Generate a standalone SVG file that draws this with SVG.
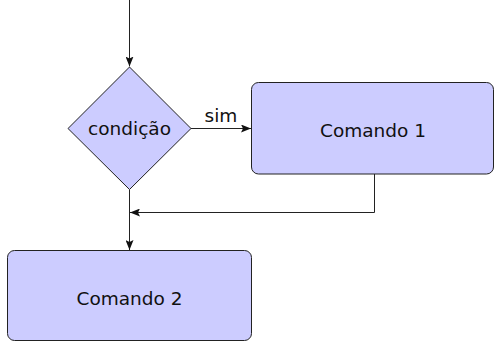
<svg xmlns="http://www.w3.org/2000/svg" width="494" height="341" viewBox="0 0 494 341">
<style>
.node{fill:#ccccff;stroke:#222;stroke-width:1}
.lbl{font-family:"DejaVu Sans",sans-serif;font-size:18.5px;fill:#111;text-anchor:middle}
.edge{fill:none;stroke:#222;stroke-width:1}
</style>
<defs>
<marker id="arr" viewBox="0 0 10 8" refX="10" refY="4" markerWidth="10" markerHeight="8" markerUnits="userSpaceOnUse" orient="auto">
<path d="M0,0 L10,4 L0,8 L2,4 Z" fill="#111"/>
</marker>
</defs>
<g id="connectors">
<line class="edge" x1="129.5" y1="0" x2="129.5" y2="66.5" marker-end="url(#arr)"/>
<line class="edge" x1="191" y1="128.5" x2="251" y2="128.5" marker-end="url(#arr)"/>
<text class="lbl" x="221" y="121.5">sim</text>
<polyline class="edge" points="374.5,174 374.5,212.5 130,212.5" marker-end="url(#arr)"/>
<line class="edge" x1="129.5" y1="189.5" x2="129.5" y2="250" marker-end="url(#arr)"/>
</g>
<g id="condicao">
<polygon class="node" points="129.5,67 191,128.5 129.5,189.5 68,128.5"/>
<text class="lbl" x="129.5" y="135">condição</text>
</g>
<g id="comando1">
<rect class="node" x="251.5" y="82.5" width="242" height="91.5" rx="7"/>
<text class="lbl" x="373" y="136.5">Comando 1</text>
</g>
<g id="comando2">
<rect class="node" x="7.5" y="250.5" width="244" height="90" rx="7"/>
<text class="lbl" x="129.5" y="304.5">Comando 2</text>
</g>
</svg>
